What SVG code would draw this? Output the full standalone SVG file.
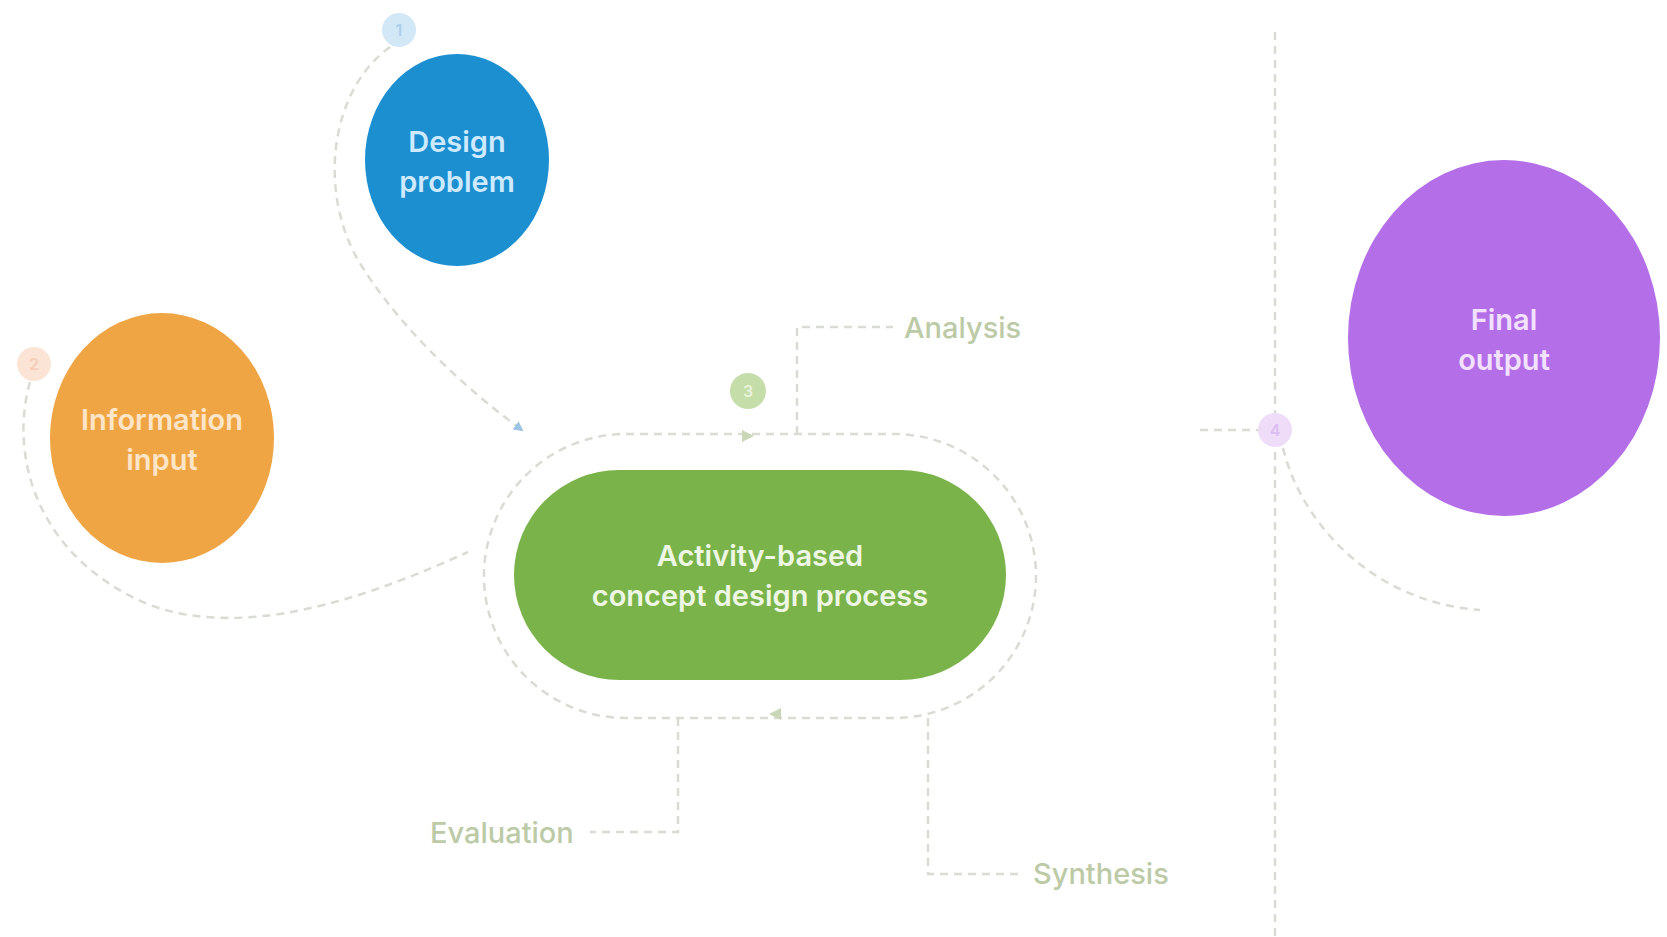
<svg xmlns="http://www.w3.org/2000/svg" width="1667" height="937" viewBox="0 0 1667 937">
<defs>
<style>
.lbl{font-family:Inter,"Liberation Sans",sans-serif;font-weight:600;font-size:29px;text-anchor:middle}
.side{font-family:Inter,"Liberation Sans",sans-serif;font-weight:500;font-size:29px;fill:#bccaa6}
.num{font-family:Inter,"Liberation Sans",sans-serif;font-weight:600;font-size:16px;text-anchor:middle}
.dash{fill:none;stroke:#d9dcd4;stroke-width:2.5;stroke-dasharray:8 6}
</style>
<marker id="arrBlue" viewBox="0 0 10 10" refX="8" refY="5" markerWidth="10" markerHeight="10" orient="auto" markerUnits="userSpaceOnUse">
<path d="M0,0 L10,5 L0,10 z" fill="#9cc4e4"/>
</marker>
</defs>
<rect width="1667" height="937" fill="#ffffff"/>

<g id="connectors">
<path class="dash" d="M390,47 C330,90 318,190 358,260 C400,330 470,392 522,430" marker-end="url(#arrBlue)"/>
<path class="dash" d="M30,382 C8,460 40,560 150,605 C250,642 380,592 468,552"/>
<rect class="dash" x="484" y="434" width="552" height="284" rx="142" ry="142"/>
<path d="M742,430 L754,436 L742,442 z" fill="#c9d6b8"/>
<path d="M781,708 L769,714 L781,720 z" fill="#c9d6b8"/>
<path class="dash" d="M797,434 L797,327 L893,327"/>
<path class="dash" d="M678,718 L678,832 L590,832"/>
<path class="dash" d="M928,718 L928,874 L1020,874"/>
<path class="dash" d="M1275,32 L1275,937" stroke="#e2e2e2"/>
<path class="dash" d="M1200,430 L1258,430"/>
<path class="dash" d="M1283,448 C1300,520 1370,602 1480,610"/>
</g>

<g id="step1">
<circle cx="399" cy="30" r="17" fill="#d3e8f7"/>
<text class="num" x="399" y="36" fill="#a9d0ee">1</text>
</g>
<g id="step2">
<circle cx="34" cy="364" r="17" fill="#fbe3d6"/>
<text class="num" x="34" y="370" fill="#f5cdb6">2</text>
</g>
<g id="step3">
<circle cx="748" cy="391" r="18" fill="#c5dda8"/>
<text class="num" x="748" y="397" fill="#e9f3dd">3</text>
</g>
<g id="step4">
<circle cx="1275" cy="430" r="17" fill="#eedcf8"/>
<text class="num" x="1275" y="436" fill="#dcbdf2">4</text>
</g>

<g id="design-problem">
<ellipse cx="457" cy="160" rx="92" ry="106" fill="#1c8fd1"/>
<text class="lbl" fill="#cdeaff"><tspan x="457" y="152">Design</tspan><tspan x="457" y="192">problem</tspan></text>
</g>

<g id="information-input">
<ellipse cx="162" cy="438" rx="112" ry="125" fill="#f0a545"/>
<text class="lbl" fill="#fde6c8"><tspan x="162" y="430">Information</tspan><tspan x="162" y="470">input</tspan></text>
</g>

<g id="process">
<rect x="514" y="470" width="492" height="210" rx="105" ry="105" fill="#7bb34b"/>
<text class="lbl" fill="#eef7e4"><tspan x="760" y="566">Activity-based</tspan><tspan x="760" y="606">concept design process</tspan></text>
</g>

<g id="final-output">
<ellipse cx="1504" cy="338" rx="156" ry="178" fill="#b46fe8"/>
<text class="lbl" fill="#f2e2ff"><tspan x="1504" y="330">Final</tspan><tspan x="1504" y="370">output</tspan></text>
</g>

<g id="analysis"><text class="side" x="904" y="338">Analysis</text></g>
<g id="evaluation"><text class="side" x="430" y="843">Evaluation</text></g>
<g id="synthesis"><text class="side" x="1033" y="884">Synthesis</text></g>
</svg>
